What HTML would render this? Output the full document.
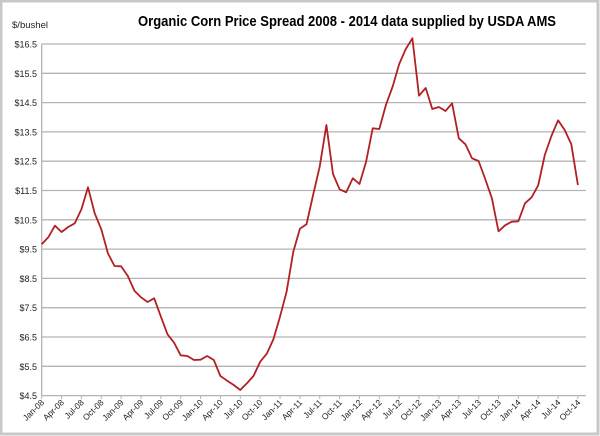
<!DOCTYPE html>
<html><head><meta charset="utf-8"><style>
body{margin:0;background:#fff}
svg{display:block}
text{font-family:"Liberation Sans",sans-serif}
</style></head><body>
<svg width="600" height="436" viewBox="0 0 600 436" xmlns="http://www.w3.org/2000/svg">
<rect x="1" y="1" width="597" height="433" fill="#fff" stroke="#c8c8c8" stroke-width="3"/>
<text x="138" y="26" font-size="15" font-weight="bold" textLength="418" lengthAdjust="spacingAndGlyphs" fill="#000">Organic Corn Price Spread 2008 - 2014 data supplied by USDA AMS</text>
<text x="12" y="28" font-size="9.5" fill="#222" textLength="36" lengthAdjust="spacingAndGlyphs">$/bushel</text>
<g id="grid" stroke="#b4b4b4" stroke-width="1.3"></g>
<g id="yl" font-size="9" fill="#222" text-anchor="end"></g>
<g id="xt" stroke="#b4b4b4" stroke-width="1"></g>
<g id="xl" font-size="8.5" fill="#222" text-anchor="end"></g>
<line x1="41.7" y1="44" x2="41.7" y2="396" stroke="#b4b4b4" stroke-width="1.3"/>
<polyline id="ln" fill="none" stroke="#b22024" stroke-width="1.8" stroke-linejoin="round"/>
</svg>
<script>
var ns="http://www.w3.org/2000/svg";
function el(t,a,p,txt){var e=document.createElementNS(ns,t);for(var k in a)e.setAttribute(k,a[k]);if(txt)e.textContent=txt;document.getElementById(p).appendChild(e);}
for(var i=0;i<13;i++){var y=44+i*29.3;var v=16.5-i;
el("line",{x1:41.7,x2:586,y1:y,y2:y},"grid");
el("text",{x:37,y:y+3.5},"yl","$"+v.toFixed(1));}
var mo=["Jan","Apr","Jul","Oct"];
for(var q=0;q<28;q++){var x=41.7+q*3*6.62;
el("line",{x1:x,x2:x,y1:396,y2:399},"xt");
var lab=mo[q%4]+"-"+String(8+Math.floor(q/4)).padStart(2,"0");
el("text",{x:0,y:0,transform:"translate("+(x+3)+",403) rotate(-45)"},"xl",lab);}
var ys=[244.3,237.3,225.7,232,227,223.3,209.3,187.3,213.3,229.3,253.3,266,266.3,276,290.7,297.3,302,298.3,316.7,334.3,342.7,355.3,356,360,359.7,356,360,376,380.7,385,390,383.3,376,361.7,353.7,339.3,316.7,291.7,251.7,228.7,224.3,195,166.7,125,174,189.3,192.3,178.3,184,161.7,128.3,129,105,86.7,64,49,38.3,95.7,88,109,107,111,103.3,138.3,144.3,158.3,161,179,198.3,231.3,225.3,221.7,221.3,203.3,197.3,185.3,155,136,120.3,130,144.3,185];
var pts=ys.map(function(y,m){return (41.7+m*6.62).toFixed(1)+","+y;}).join(" ");
document.getElementById("ln").setAttribute("points",pts);
</script>
</body></html>
